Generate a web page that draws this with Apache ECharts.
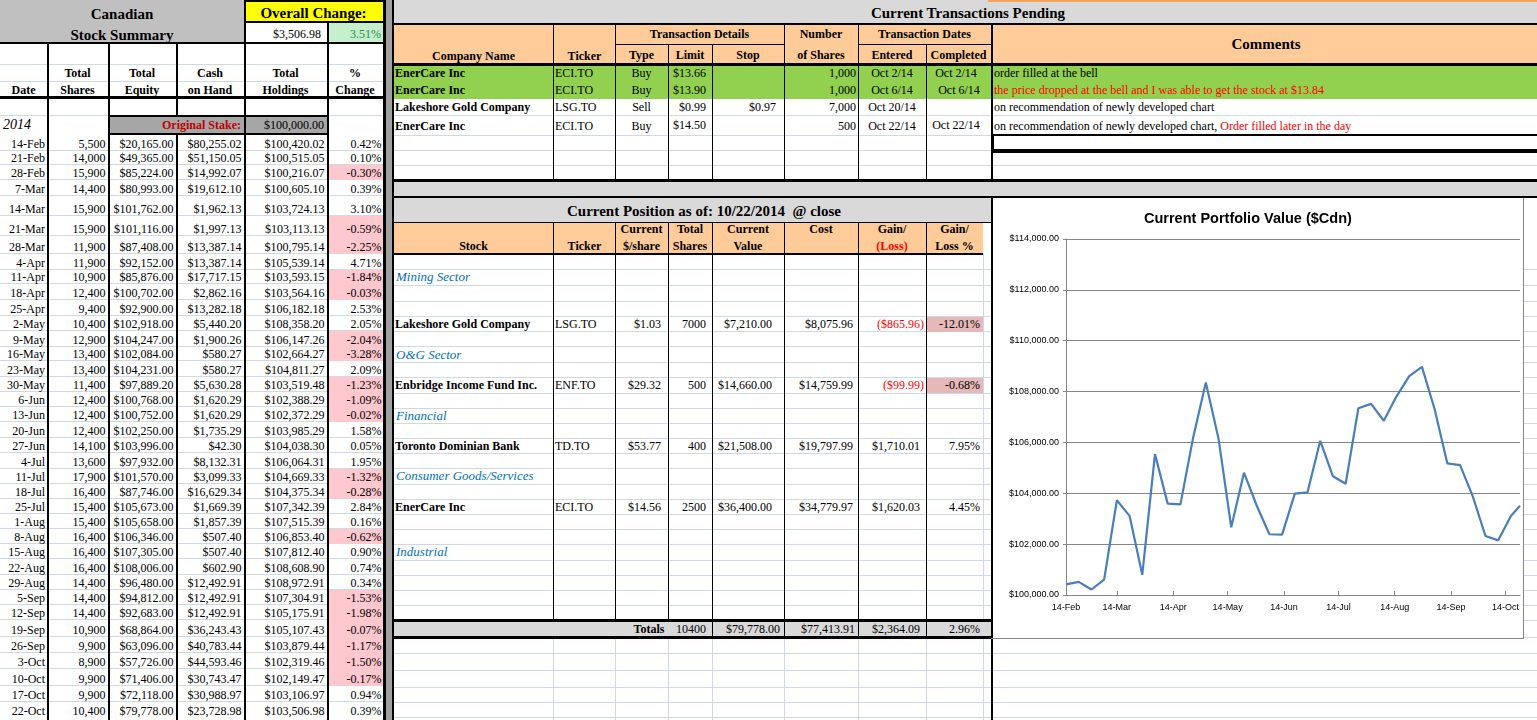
<!DOCTYPE html>
<html><head><meta charset="utf-8">
<script src="https://cdn.jsdelivr.net/npm/echarts@6/dist/echarts.min.js"></script>
<style>
html,body{margin:0;padding:0;width:1537px;height:720px;overflow:hidden;background:#fff;}
#page{position:absolute;left:0;top:0;width:1537px;height:720px;font-family:'Liberation Serif','Times New Roman',serif;font-size:12px;color:#000;overflow:hidden;}
</style></head><body><div id="page"></div>
<script>
// ---------------- DATA ----------------
const dates = ['14-Feb','21-Feb','28-Feb','7-Mar','14-Mar','21-Mar','28-Mar','4-Apr','11-Apr','18-Apr','25-Apr','2-May','9-May','16-May','23-May','30-May','6-Jun','13-Jun','20-Jun','27-Jun','4-Jul','11-Jul','18-Jul','25-Jul','1-Aug','8-Aug','15-Aug','22-Aug','29-Aug','5-Sep','12-Sep','19-Sep','26-Sep','3-Oct','10-Oct','17-Oct','22-Oct'];
const totalShares = [5500,14000,15900,14400,15900,15900,11900,11900,10900,12400,9400,10400,12900,13400,13400,11400,12400,12400,12400,14100,13600,17900,16400,15400,15400,16400,16400,16400,14400,14400,14400,10900,9900,8900,9900,9900,10400];
const totalEquity = [20165.00,49365.00,85224.00,80993.00,101762.00,101116.00,87408.00,92152.00,85876.00,100702.00,92900.00,102918.00,104247.00,102084.00,104231.00,97889.20,100768.00,100752.00,102250.00,103996.00,97932.00,101570.00,87746.00,105673.00,105658.00,106346.00,107305.00,108006.00,96480.00,94812.00,92683.00,68864.00,63096.00,57726.00,71406.00,72118.00,79778.00];
const cashOnHand = [80255.02,51150.05,14992.07,19612.10,1962.13,1997.13,13387.14,13387.14,17717.15,2862.16,13282.18,5440.20,1900.26,580.27,580.27,5630.28,1620.29,1620.29,1735.29,42.30,8132.31,3099.33,16629.34,1669.39,1857.39,507.40,507.40,602.90,12492.91,12492.91,12492.91,36243.43,40783.44,44593.46,30743.47,30988.97,23728.98];
const totalHoldings = [100420.02,100515.05,100216.07,100605.10,103724.13,103113.13,100795.14,105539.14,103593.15,103564.16,106182.18,108358.20,106147.26,102664.27,104811.27,103519.48,102388.29,102372.29,103985.29,104038.30,106064.31,104669.33,104375.34,107342.39,107515.39,106853.40,107812.40,108608.90,108972.91,107304.91,105175.91,105107.43,103879.44,102319.46,102149.47,103106.97,103506.98];
const pctChange = [0.42,0.10,-0.30,0.39,3.10,-0.59,-2.25,4.71,-1.84,-0.03,2.53,2.05,-2.04,-3.28,2.09,-1.23,-1.09,-0.02,1.58,0.05,1.95,-1.32,-0.28,2.84,0.16,-0.62,0.90,0.74,0.34,-1.53,-1.98,-0.07,-1.17,-1.50,-0.17,0.94,0.39];
const originalStake = 100000;
const overallChange = 3506.98;
const overallPct = 3.51;

const txCompany = ['EnerCare Inc','EnerCare Inc','Lakeshore Gold Company','EnerCare Inc'];
const txTicker = ['ECI.TO','ECI.TO','LSG.TO','ECI.TO'];
const txType = ['Buy','Buy','Sell','Buy'];
const txLimit = [13.66,13.90,0.99,14.50];
const txStop = [null,null,0.97,null];
const txShares = [1000,1000,7000,500];
const txEntered = ['Oct 2/14','Oct 6/14','Oct 20/14','Oct 22/14'];
const txCompleted = ['Oct 2/14','Oct 6/14','','Oct 22/14'];
const txComment = ['order filled at the bell','','on recommendation of newly developed chart','on recommendation of newly developed chart, '];
const txCommentRed = ['','the price dropped at the bell and I was able to get the stock at $13.84','','Order filled later in the day'];

const sectors = ['Mining Sector','O&G Sector','Financial','Consumer Goods/Services','Industrial'];
const posStock = ['Lakeshore Gold Company','Enbridge Income Fund Inc.','Toronto Dominian Bank','EnerCare Inc'];
const posTicker = ['LSG.TO','ENF.TO','TD.TO','ECI.TO'];
const posPrice = [1.03,29.32,53.77,14.56];
const posShares = [7000,500,400,2500];
const posValue = [7210.00,14660.00,21508.00,36400.00];
const posCost = [8075.96,14759.99,19797.99,34779.97];
const posGain = [-865.96,-99.99,1710.01,1620.03];
const posGainPct = [-12.01,-0.68,7.95,4.45];
const totShares = 10400, totValue = 79778.00, totCost = 77413.91, totGain = 2364.09, totPct = 2.96;

const xTickLabels = ['14-Feb','14-Mar','14-Apr','14-May','14-Jun','14-Jul','14-Aug','14-Sep','14-Oct'];
const yMin = 100000, yMax = 114000, yStep = 2000;

// ---------------- HELPERS ----------------
const MONTHS=['Jan','Feb','Mar','Apr','May','Jun','Jul','Aug','Sep','Oct','Nov','Dec'];
const page=document.getElementById('page');
function px(v){return v+'px';}
function el(st,text){const d=document.createElement('div');d.style.position='absolute';d.style.boxSizing='border-box';Object.assign(d.style,st);if(text!=null)d.textContent=text;page.appendChild(d);return d;}
function rect(x,y,w,h,bg,extra){return el(Object.assign({left:px(x),top:px(y),width:px(w),height:px(h),background:bg},extra||{}));}
function hl(x1,x2,y,c,t){return rect(x1,y-t/2,x2-x1,t,c);}
function vl(x,y1,y2,c,t){return rect(x-t/2,y1,t,y2-y1,c);}
function txt(x,y,s,o){o=o||{};const sz=o.size||12;
  const st={top:px(y-10),height:'20px',lineHeight:'20px',whiteSpace:'pre',fontSize:px(sz),fontWeight:o.bold?'bold':'normal',fontStyle:o.italic?'italic':'normal',color:o.color||'#000'};
  const a=o.align||'left';
  if(a==='left')st.left=px(x); else if(a==='right'){st.left=px(x-500);st.width='500px';st.textAlign='right';} else {st.left=px(x-300);st.width='600px';st.textAlign='center';}
  return el(st,s);}
function commas(s){return s.replace(/\B(?=(\d{3})+(?!\d))/g,',');}
function money(v){const s='$'+commas(Math.abs(v).toFixed(2));return v<0?'('+s+')':s;}
function intc(v){return commas(String(v));}
function pct(v){return v.toFixed(2)+'%';}
function parseDay(s){const p=s.split('-');return Date.UTC(2014,MONTHS.indexOf(p[1]),+p[0]);}

const GRID='#d0d7e5', BLK='#000';

// ---------------- LEFT PANEL ----------------
const LB=[134,150.5,164.5,179.8,195.5,215.8,235.8,253.8,269.2,283.8,299.8,315.2,330.8,346.2,360.8,376.5,391.5,406.5,421.8,437.5,452.8,468.2,483.2,498.2,513.8,528.5,543.8,558.8,574.2,589.2,604.8,619.8,636.5,652.8,668.5,685.5,701.5,720];
[64,81,115].concat(LB.slice(1,-1)).forEach(y=>hl(0,383,y,GRID,1));
rect(0,0,244,43,'#c0c0c0');
rect(244,0,139,22,'#ffff00');
rect(327,22,56,21,'#c6efce');
rect(108,115,219,19.5,'#a6a6a6');
pctChange.forEach((v,i)=>{ if(v<0) rect(328,LB[i]+0.5,55,LB[i+1]-LB[i],'#ffc7ce'); });
// borders
hl(0,385,43,BLK,2.5); hl(0,385,97.5,BLK,2.5);
vl(47.5,43,720,BLK,2); vl(108.5,43,720,BLK,2);
vl(176.5,43,114.5,BLK,2); vl(176.5,134.5,720,BLK,2);
vl(244.5,0,720,BLK,2); vl(327.5,22,720,BLK,2);
hl(244,384,1,BLK,2); hl(244,384,22,BLK,1.5);
rect(107.5,114.5,221,20.5,'transparent',{border:'2px solid #000'});
rect(383,0,2.5,720,BLK); rect(385.5,0,6.5,720,'#a0a0a0'); rect(392,0,2,720,BLK);
// text
txt(122,14,'Canadian',{bold:true,size:15,align:'center'});
txt(122,35,'Stock Summary',{bold:true,size:15,align:'center'});
txt(313.5,12.5,'Overall Change:',{bold:true,size:15,align:'center'});
txt(321,33.5,money(overallChange),{align:'right'});
txt(381,33.5,pct(overallPct),{align:'right',color:'#2e8b3e'});
txt(23.5,90,'Date',{bold:true,align:'center'});
[[77.5,'Total','Shares'],[142,'Total','Equity'],[210,'Cash','on Hand'],[285.5,'Total','Holdings'],[355,'%','Change']].forEach(h=>{
  txt(h[0],72.7,h[1],{bold:true,align:'center'}); txt(h[0],90,h[2],{bold:true,align:'center'});});
txt(3,125,'2014',{italic:true,size:14});
txt(241,125,'Original Stake:',{bold:true,align:'right',color:'#c00000'});
txt(324,125,money(originalStake),{align:'right'});
dates.forEach((d,i)=>{
  const y=(i===dates.length-1)?710.5:LB[i+1]-6.5;
  txt(45,y,d,{align:'right'});
  txt(105.5,y,intc(totalShares[i]),{align:'right'});
  txt(173.5,y,money(totalEquity[i]),{align:'right'});
  txt(241.5,y,money(cashOnHand[i]),{align:'right'});
  txt(324.5,y,money(totalHoldings[i]),{align:'right'});
  txt(381.5,y,pct(pctChange[i]),{align:'right'});
});

// ---------------- TRANSACTIONS PENDING ----------------
[115.7,135.3,150.7,165.3].forEach(y=>hl(394,1537,y,GRID,1));
rect(394,0,1143,23,'#d9d9d9');
rect(988,0,549,1.5,'#f5a55a');
rect(394,24,1143,40,'#ffcc99');
rect(394,65,1143,33.7,'#92d050');
rect(394,181,1143,15,'#d9d9d9');
hl(394,1537,23.5,BLK,2); hl(394,1537,64.3,BLK,2.5); hl(394,1537,180.5,BLK,2.5); hl(394,1537,197,BLK,2);
[553.5,615.5,784,858.5].forEach(x=>vl(x,23,180,BLK,1));
[668,712.5,926.5].forEach(x=>vl(x,44,180,BLK,1));
hl(615,784,44,BLK,1); hl(858,991,44,BLK,1);
vl(991.5,23,180,BLK,2);
rect(992,134,545,17,'transparent',{borderTop:'2px solid #000',borderBottom:'2px solid #000',borderLeft:'2px solid #000'});
hl(992,1537,152.3,BLK,2);
txt(968,12.5,'Current Transactions Pending',{bold:true,size:15,align:'center'});
txt(473.5,56,'Company Name',{bold:true,align:'center'});
txt(584.5,56,'Ticker',{bold:true,align:'center'});
txt(699.5,34,'Transaction Details',{bold:true,align:'center'});
txt(641.5,55,'Type',{bold:true,align:'center'});
txt(690,55,'Limit',{bold:true,align:'center'});
txt(748,55,'Stop',{bold:true,align:'center'});
txt(821,34,'Number',{bold:true,align:'center'});
txt(821,55,'of Shares',{bold:true,align:'center'});
txt(924.5,34,'Transaction Dates',{bold:true,align:'center'});
txt(892,55,'Entered',{bold:true,align:'center'});
txt(958.5,55,'Completed',{bold:true,align:'center'});
txt(1266,44,'Comments',{bold:true,size:15,align:'center'});
const TXY=[73.3,90.3,107.3,126.2];
txCompany.forEach((c,i)=>{
  const y=TXY[i];
  txt(395,y,c,{bold:true});
  txt(555,y,txTicker[i]);
  txt(641.5,y,txType[i],{align:'center'});
  txt(706,y-(i===3?1.2:0),money(txLimit[i]),{align:'right'});
  if(txStop[i]!=null) txt(776,y,money(txStop[i]),{align:'right'});
  txt(856,y,intc(txShares[i]),{align:'right'});
  txt(892,y,txEntered[i],{align:'center'});
  if(txCompleted[i]) txt(956+(i===1?3:0),y-(i===3?1.5:0),txCompleted[i],{align:'center'});
  const d=txt(994,y,'');
  if(txComment[i]){const s=document.createElement('span');s.textContent=txComment[i];d.appendChild(s);}
  if(txCommentRed[i]){const s=document.createElement('span');s.style.color='#ff0000';s.textContent=txCommentRed[i];d.appendChild(s);}
});

// ---------------- CURRENT POSITION ----------------
const PB=[253.3,269.3,285.3,301,316,331.7,346.7,362.3,377.3,393.3,408.3,423.3,438.3,453.3,468.3,484.3,499.3,514.3,529.3,544.3,560.3,575.3,590.3,605.3,620.3,637.7,653.3,670.3,687,702,717];
PB.slice(1).forEach(y=>hl(394,1537,y,GRID,1));
vl(983,253,720,GRID,1);
[553.5,615.5,668,712.5,784,858.5,926.5].forEach(x=>vl(x,638,720,GRID,1));
rect(394,198,597,24,'#d9d9d9');
rect(394,222,589,31,'#ffcc99');
const SECROW=[1,6,10,14,19], STKROW=[4,8,12,16];
posGainPct.forEach((v,i)=>{ if(v<0){const r=STKROW[i]; rect(927,PB[r]+0.5,56,PB[r+1]-PB[r]-0.5,'#e6b8b7');} });
rect(394,620.3,597,17.4,'#d9d9d9');
hl(394,991,222,BLK,1); hl(394,983,253.5,BLK,2);
[553.5,615.5,668,712.5,784,858.5,926.5].forEach(x=>vl(x,222,620,BLK,1));
[712.5,784,858.5,926.5].forEach(x=>vl(x,620,638,BLK,1));
hl(394,991,620.5,BLK,2.5); hl(394,991,637.7,BLK,2.5);
vl(991.5,196,720,BLK,2);
txt(704,210.7,'Current Position as of: 10/22/2014  @ close',{bold:true,size:15,align:'center'});
txt(473.5,245.7,'Stock',{bold:true,align:'center'});
txt(584.5,245.7,'Ticker',{bold:true,align:'center'});
[[641.5,'Current','$/share'],[690,'Total','Shares'],[748,'Current','Value'],[821,'Cost',''],[892,'Gain/','(Loss)'],[954.5,'Gain/','Loss %']].forEach((h,k)=>{
  txt(h[0],229,h[1],{bold:true,align:'center'});
  if(h[2]) txt(h[0],245.7,h[2],{bold:true,align:'center',color:k===4?'#ff0000':'#000'});
});
sectors.forEach((s,i)=>{const r=SECROW[i]; txt(396,(PB[r]+PB[r+1])/2,s,{italic:true,size:13,color:'#0070c0'});});
posStock.forEach((s,i)=>{
  const r=STKROW[i], y=(PB[r]+PB[r+1])/2;
  txt(395,y,s,{bold:true});
  txt(555,y,posTicker[i]);
  txt(661,y,money(posPrice[i]),{align:'right'});
  txt(706,y,String(posShares[i]),{align:'right'});
  txt(772,y,money(posValue[i]),{align:'right'});
  txt(853,y,money(posCost[i]),{align:'right'});
  txt(posGain[i]<0?924:920,y,money(posGain[i]),{align:'right',color:posGain[i]<0?'#ff0000':'#000'});
  txt(980,y,pct(posGainPct[i]),{align:'right'});
});
const TY=629;
txt(664.5,TY,'Totals',{bold:true,align:'right'});
txt(706,TY,String(totShares),{align:'right'});
txt(780,TY,money(totValue),{align:'right'});
txt(855,TY,money(totCost),{align:'right'});
txt(920,TY,money(totGain),{align:'right'});
txt(980,TY,pct(totPct),{align:'right'});

// ---------------- CHART ----------------
const chartDiv=rect(993,198,530,440,'#fff');
rect(1523,198,1,441,'#868686');
rect(991,638,533,1,'#868686');
const chart=echarts.init(chartDiv);
const xTicks=xTickLabels.map(parseDay);
chart.setOption({
  animation:false,
  textStyle:{fontFamily:'Liberation Sans'},
  title:{text:'Current Portfolio Value ($Cdn)',left:146,top:8,textStyle:{fontFamily:'Liberation Sans',fontWeight:'bold',fontSize:14.5,color:'#000'}},
  grid:{left:73,right:3,top:41,bottom:43,containLabel:false},
  xAxis:{type:'value',min:parseDay(dates[0]),max:parseDay(dates[dates.length-1]),
    axisLine:{lineStyle:{color:'#868686',width:1}},
    axisTick:{show:true,inside:true,length:4,customValues:xTicks,lineStyle:{color:'#868686'}},
    axisLabel:{customValues:xTicks,color:'#000',fontSize:9,margin:8,
      formatter:function(v){const d=new Date(v);return d.getUTCDate()+'-'+MONTHS[d.getUTCMonth()];}},
    splitLine:{show:false}},
  yAxis:{type:'value',min:yMin,max:yMax,interval:yStep,
    axisLine:{show:true,lineStyle:{color:'#868686'}},
    axisTick:{show:true,length:3,lineStyle:{color:'#868686'}},
    axisLabel:{color:'#000',fontSize:9,margin:7,formatter:function(v){return money(v);}},
    splitLine:{show:true,lineStyle:{color:'#868686',width:1}}},
  series:[{type:'line',data:dates.map((d,i)=>[parseDay(d),totalHoldings[i]]),showSymbol:false,symbol:'none',
    lineStyle:{color:'#4a7ebb',width:2.2},itemStyle:{color:'#4a7ebb'}}]
});
</script></body></html>
